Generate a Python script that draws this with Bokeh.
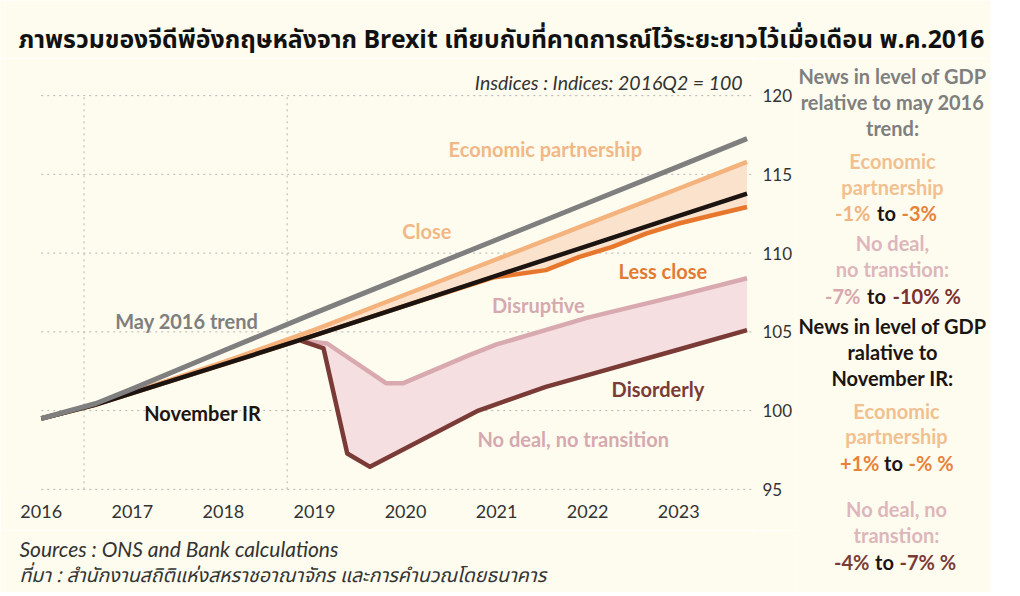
from bokeh.plotting import figure
from bokeh.models import Range1d, FixedTicker, Label
from bokeh.layouts import column, row
from bokeh.embed import file_html
from bokeh.resources import INLINE

# ---------------- data ----------------
years = [2016, 2017, 2018, 2019, 2020, 2021, 2022, 2023]
y_ticks = [95, 100, 105, 110, 115, 120]
vline_years = [2016.47, 2018.70]
grid_span = [2016.0, 2023.8]

trend_x = [2016.0, 2016.6, 2017.0, 2018.0, 2019.0, 2020.0, 2021.0, 2022.0, 2023.0, 2023.75]
trend_y = [99.5, 100.45, 101.38, 103.80, 106.19, 108.52, 110.85, 113.18, 115.51, 117.27]

nov_x = [2016.0, 2016.58, 2017.0, 2018.0, 2019.0, 2020.0, 2021.0, 2022.0, 2023.0, 2023.75]
nov_y = [99.5, 100.35, 101.11, 102.93, 104.77, 106.67, 108.57, 110.46, 112.36, 113.78]

econ_x = [2016.0, 2016.58, 2017.0, 2018.0, 2019.0, 2020.0, 2021.0, 2022.0, 2023.0, 2023.75]
econ_y = [99.5, 100.35, 101.15, 103.08, 105.12, 107.37, 109.61, 111.85, 114.10, 115.79]

less_x = [2016.0, 2016.58, 2017.0, 2018.0, 2019.0, 2020.0, 2020.96, 2021.54, 2021.91,
          2022.27, 2022.64, 2023.0, 2023.37, 2023.75]
less_y = [99.5, 100.35, 101.11, 102.93, 104.77, 106.67, 108.45, 108.92, 109.76,
          110.39, 111.24, 111.88, 112.40, 112.93]

disrupt_x = [2018.85, 2019.14, 2019.79, 2019.97, 2020.70, 2021.0, 2022.0, 2023.0, 2023.75]
disrupt_y = [104.45, 104.26, 101.73, 101.73, 103.52, 104.2, 105.9, 107.3, 108.4]

disorder_x = [2018.85, 2019.10, 2019.36, 2019.61, 2020.8, 2021.54, 2022.0, 2023.0, 2023.75]
disorder_y = [104.45, 103.95, 97.28, 96.43, 100.0, 101.51, 102.25, 103.88, 105.11]

# ---------------- style ----------------
BG = "#fdfcef"
GRAY = "#7f7f7f"
BLACK = "#1c1411"
ECON = "#f4b27c"
LESS = "#e8772e"
PINK = "#d8a9ae"
DARK = "#7a3b37"
GRID = "#b5b5b5"
FONT = "Lato, 'Noto Sans', sans-serif"
THAI = "'Noto Sans Thai', Lato, 'Noto Sans', sans-serif"


def blank_fig(w, h):
    f = figure(width=w, height=h, x_range=Range1d(0, w), y_range=Range1d(h, 0),
               output_backend="svg", toolbar_location=None,
               min_border=0, min_border_left=0, min_border_right=0,
               min_border_top=0, min_border_bottom=0)
    f.axis.visible = False
    f.grid.visible = False
    f.background_fill_color = BG
    f.border_fill_color = BG
    f.outline_line_color = None
    return f


def add_text(f, text, x, y, color, size, style="bold", align="center", font=FONT):
    f.add_layout(Label(x=x, y=y, text=text, text_color=color,
                       text_font_size=f"{size}px", text_font_style=style,
                       text_align=align, text_baseline="middle", text_font=font))


# ---------------- main chart (page x 0..795, y 58..530; frame x 0..755) ----------------
MW, MH = 795, 472
TOP = 58
PXY = 91.43          # pixels per year
PXV = 15.75          # pixels per index point
X0 = 2015.99 - 40 / PXY
X1 = 2023.81
Y0 = 94.8
Y1 = Y0 + (492 - TOP) / PXV

p = figure(width=MW, height=MH, x_range=Range1d(X0, X1), y_range=Range1d(Y0, Y1),
           y_axis_location="right", output_backend="svg", toolbar_location=None,
           min_border_left=0, min_border_right=MW - 755,
           min_border_top=0, min_border_bottom=MH - (492 - TOP))
p.background_fill_color = BG
p.border_fill_color = BG
p.outline_line_color = None
p.grid.visible = False

# dotted grid
p.segment(x0=[grid_span[0]] * len(y_ticks), y0=y_ticks,
          x1=[grid_span[1]] * len(y_ticks), y1=y_ticks,
          line_color=GRID, line_dash="2 4", line_width=1)
p.segment(x0=vline_years, y0=[min(y_ticks)] * len(vline_years),
          x1=vline_years, y1=[max(y_ticks)] * len(vline_years),
          line_color=GRID, line_dash="2 4", line_width=1)

p.xaxis.ticker = FixedTicker(ticks=years)
p.xaxis.axis_line_color = None
p.xaxis.major_tick_line_color = None
p.xaxis.minor_tick_line_color = None
p.xaxis.major_label_standoff = 6
p.xaxis.major_label_text_font = FONT
p.xaxis.major_label_text_font_size = "18px"
p.xaxis.major_label_text_color = "#333333"

p.yaxis.ticker = FixedTicker(ticks=y_ticks)
p.yaxis.axis_line_color = None
p.yaxis.major_tick_line_color = None
p.yaxis.minor_tick_line_color = None
p.yaxis.major_label_standoff = 4
p.yaxis.major_label_text_font = FONT
p.yaxis.major_label_text_font_size = "17px"
p.yaxis.major_label_text_color = "#333333"

p.patch(econ_x + less_x[::-1], econ_y + less_y[::-1], fill_color="#fbe2cd", line_color=None)
p.patch(disrupt_x + disorder_x[::-1], disrupt_y + disorder_y[::-1], fill_color="#f5dfe0",
        line_color=None)

p.line(disrupt_x, disrupt_y, line_color=PINK, line_width=4.5, line_join="round")
p.line(disorder_x, disorder_y, line_color=DARK, line_width=4.5, line_join="round")
p.line(econ_x, econ_y, line_color=ECON, line_width=4.5, line_join="round")
p.line(less_x, less_y, line_color=LESS, line_width=4.5, line_join="round")
p.line(nov_x, nov_y, line_color=BLACK, line_width=4.5, line_join="round")
p.line(trend_x, trend_y, line_color=GRAY, line_width=5, line_join="round")


def X(px):
    return X0 + px / PXY


def Y(py):
    return Y1 - (py - TOP) / PXV


def lab(text, px, py, color, size, style="bold", align="center"):
    add_text(p, text, X(px), Y(py), color, size, style, align)


lab("Economic partnership", 547, 148, "#f2b787", 20)
lab("Close", 428, 230, "#f2b787", 20)
lab("Less close", 665, 270, "#e07a35", 20)
lab("Disruptive", 540, 304, "#d6a9b0", 20)
lab("Disorderly", 660, 388, DARK, 20)
lab("No deal, no transition", 575, 438, "#d6a9b0", 20)
lab("May 2016 trend", 187, 320, GRAY, 20)
lab("November IR", 203, 412, BLACK, 20)
lab("Insdices : Indices: 2016Q2 = 100", 745, 82, "#333333", 19.5, style="italic", align="right")

# ---------------- title (page y 0..58) ----------------
t = blank_fig(990, TOP)
add_text(t, "ภาพรวมของจีดีพีอังกฤษหลังจาก Brexit เทียบกับที่คาดการณ์ไว้ระยะยาวไว้เมื่อเดือน พ.ค.2016",
         18, 40, "#111111", 24.8, align="left", font=THAI)

# ---------------- footer (page y 530..592) ----------------
FT = 530
ft = blank_fig(MW, 62)
add_text(ft, "Sources : ONS and Bank calculations", 20, 548 - FT, "#333333", 21, style="italic",
         align="left")
add_text(ft, "ที่มา : สำนักงานสถิติแห่งสหราชอาณาจักร และการคำนวณโดยธนาคาร", 20, 575 - FT, "#333333",
         19.5, style="italic", align="left", font=THAI)

# ---------------- right panel (page x 795..990, y 58..592) ----------------
r = blank_fig(990 - MW, 592 - TOP)


def rt(text, px, py, color, align="center"):
    add_text(r, text, px - MW, py - TOP, color, 20, "bold", align)


C = 892
rt("News in level of GDP", C, 75, GRAY)
rt("relative to may 2016", C, 101, GRAY)
rt("trend:", C, 127, GRAY)
rt("Economic", C, 160, "#f2c08f")
rt("partnership", C, 186, "#f2c08f")
rt("-1%", 870, 212, "#f0b47e", "right")
rt("to", 886, 212, BLACK)
rt("-3%", 901, 212, "#e8823a", "left")
rt("No deal,", C, 242, "#ddb6bc")
rt("no transtion:", C, 268, "#ddb6bc")
rt("-7%", 860, 295, "#d9a7ae", "right")
rt("to", 876, 295, BLACK)
rt("-10% %", 892, 295, "#7a3030", "left")
rt("News in level of GDP", C, 325, BLACK)
rt("ralative to", C, 351, BLACK)
rt("November IR:", C, 377, BLACK)
rt("Economic", 896, 410, "#f2c08f")
rt("partnership", 896, 435, "#f2c08f")
rt("+1%", 879, 462, "#e8823a", "right")
rt("to", 893, 462, BLACK)
rt("-% %", 908, 462, "#e8823a", "left")
rt("No deal, no", 896, 508, "#ddb6bc")
rt("transtion:", 896, 534, "#ddb6bc")
rt("-4%", 869, 561, DARK, "right")
rt("to", 884, 561, BLACK)
rt("-7% %", 899, 561, DARK, "left")

layout = column(t, row(column(p, ft, spacing=0), r, spacing=0), spacing=0)

open("out.html", "w").write(file_html(layout, INLINE))
